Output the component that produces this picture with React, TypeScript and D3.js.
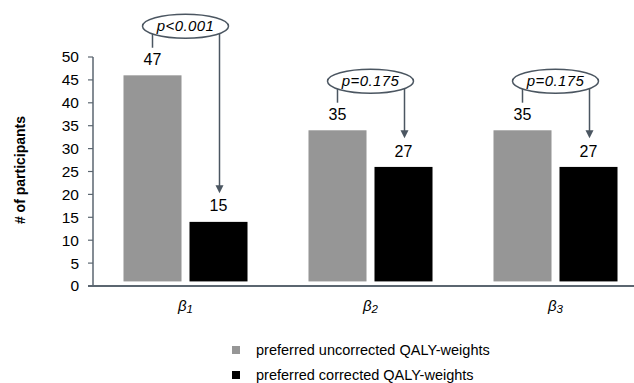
import React from "react";
import * as d3 from "d3";

const categories = ["1", "2", "3"]; // subscripts of beta
const uncorrected = [47, 35, 35];
const corrected = [15, 27, 27];
const pValues = ["p<0.001", "p=0.175", "p=0.175"];
const yTicks = [0, 5, 10, 15, 20, 25, 30, 35, 40, 45, 50];
const seriesNames = ["preferred uncorrected QALY-weights", "preferred corrected QALY-weights"];
const seriesColors = ["#969696", "#000000"];

const W = 634;
const H = 383;
const axisColor = "#5b6670";
const annColor = "#4b5661";
const font = "'Liberation Sans', Arial, sans-serif";

const App = () => {
  const x0 = d3.scaleBand<string>().domain(categories).range([93, 648]);
  const x1 = d3
    .scaleBand<number>()
    .domain([0, 1])
    .range([0, x0.bandwidth()])
    .paddingInner(0.121)
    .paddingOuter(0.462);
  const y = d3.scaleLinear().domain([0, 50]).range([286, 57]);

  // excel-ish drawing: bars sit 1 unit above the axis and end 1 unit short
  const barBottom = y(1);
  const barTop = (v: number) => y(v - 1);

  return (
    <svg width={W} height={H} style={{ position: "absolute", left: 0, top: 0, background: "#fff" }} fontFamily={font}>
      {/* y axis title */}
      <text
        transform={`translate(25,170) rotate(-90)`}
        textAnchor="middle"
        fontSize={14}
        fontWeight="bold"
        fill="#000"
      >
        # of participants
      </text>

      {/* y axis */}
      <line x1={93} x2={93} y1={y(50)} y2={y(0)} stroke={axisColor} strokeWidth={1.5} />
      {yTicks.map((t) => (
        <g key={t}>
          <line x1={88} x2={93} y1={y(t)} y2={y(t)} stroke={axisColor} strokeWidth={1.2} />
          <text x={79} y={y(t)} dy="0.35em" textAnchor="end" fontSize={15.5} fill="#000">
            {t}
          </text>
        </g>
      ))}

      {/* bars */}
      {categories.map((c, i) => {
        const gx = x0(c)!;
        const vals = [uncorrected[i], corrected[i]];
        return (
          <g key={c}>
            {vals.map((v, j) => (
              <g key={j}>
                <rect
                  x={gx + x1(j)!}
                  y={barTop(v)}
                  width={x1.bandwidth()}
                  height={barBottom - barTop(v)}
                  fill={seriesColors[j]}
                />
                <text
                  x={gx + x1(j)! + x1.bandwidth() / 2}
                  y={barTop(v) - 16}
                  dy="0.35em"
                  textAnchor="middle"
                  fontSize={16}
                  fill="#000"
                >
                  {v}
                </text>
              </g>
            ))}
          </g>
        );
      })}

      {/* x axis */}
      <line x1={88} x2={W} y1={y(0)} y2={y(0)} stroke={axisColor} strokeWidth={2} />
      {categories.map((c) => (
        <text
          key={c}
          x={x0(c)! + x0.bandwidth() / 2}
          y={306}
          dy="0.35em"
          textAnchor="middle"
          fontSize={15}
          fontStyle="italic"
          fill="#000"
        >
          β
          <tspan fontSize={11.5} dy="1.5">
            {c}
          </tspan>
        </text>
      ))}

      {/* p-value annotations */}
      {categories.map((c, i) => {
        const gx = x0(c)!;
        const cx = gx + x0.bandwidth() / 2;
        const cy = y(uncorrected[i]) - 44.5;
        const rx = 43;
        const ry = 12;
        const lx = gx + x1(0)! + x1.bandwidth() / 2;
        const ax = gx + x1(1)! + x1.bandwidth() / 2 + 1;
        const edge = (px: number) => cy + ry * Math.sqrt(Math.max(0, 1 - ((px - cx) / rx) ** 2));
        const tipY = y(corrected[i]) - 24;
        return (
          <g key={c}>
            <line x1={lx} x2={lx} y1={edge(lx)} y2={y(uncorrected[i]) - 23} stroke={annColor} strokeWidth={1.5} />
            <line x1={ax} x2={ax} y1={edge(ax)} y2={tipY - 6} stroke={annColor} strokeWidth={1.5} />
            <path d={`M${ax - 4},${tipY - 8} L${ax + 4},${tipY - 8} L${ax},${tipY} Z`} fill={annColor} />
            <ellipse cx={cx} cy={cy} rx={rx} ry={ry} fill="#fff" stroke={annColor} strokeWidth={1.5} />
            <text
              x={cx}
              y={cy}
              dy="0.35em"
              textAnchor="middle"
              fontSize={15}
              letterSpacing={0.4}
              fontStyle="italic"
              fill="#000"
            >
              {pValues[i]}
            </text>
          </g>
        );
      })}

      {/* legend */}
      {seriesNames.map((s, i) => (
        <g key={s} transform={`translate(232,${350 + i * 25})`}>
          <rect x={0} y={-4} width={8} height={8} fill={seriesColors[i]} />
          <text x={24} y={0} dy="0.35em" fontSize={14.5} fill="#000">
            {s}
          </text>
        </g>
      ))}
    </svg>
  );
};

export default App;
